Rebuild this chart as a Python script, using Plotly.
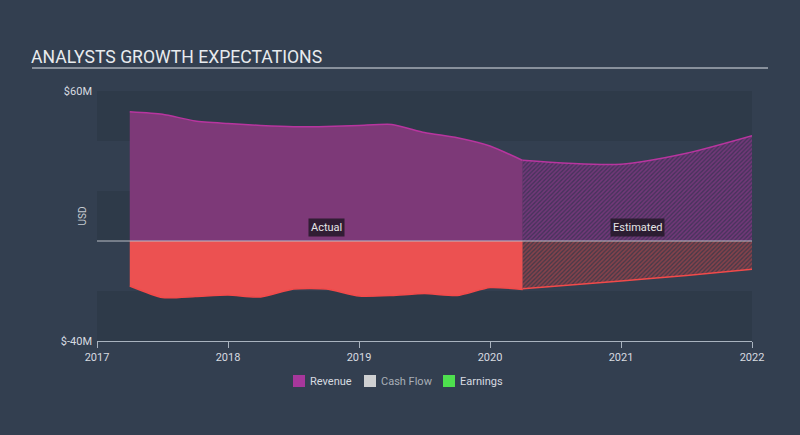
import plotly.graph_objects as go

# ---- data ----
actual_x = [2017.25, 2017.5, 2017.75, 2018.0, 2018.25, 2018.5, 2018.75,
            2019.0, 2019.25, 2019.5, 2019.75, 2020.0, 2020.25]
revenue_actual = [51.7, 50.7, 48.0, 47.0, 46.2, 45.7, 45.8,
                  46.2, 46.6, 43.4, 41.3, 38.0, 32.2]
earnings_actual = [-18.0, -22.6, -22.2, -21.6, -22.4, -19.2, -19.2,
                   -22.0, -21.8, -21.0, -21.8, -18.6, -19.4]
est_x = [2020.25, 2021.0, 2021.5, 2022.0]
revenue_est = [32.3, 30.7, 35.1, 42.1]
earnings_est = [-19.1, -16.0, -13.8, -11.3]
year_ticks = [2017, 2018, 2019, 2020, 2021, 2022]
y_ticks = [-40, 60]
y_tick_labels = ["$-40M", "$60M"]

BG = "#333f50"
BAND = "#2e3a49"
REV_LINE = "#b8359f"
REV_FILL = "rgba(125,57,120,1)"
EARN_LINE = "#f24a4a"
EARN_FILL = "rgba(236,81,81,1)"
TXT = "#d7dbe0"

fig = go.Figure()

fig.add_trace(go.Scatter(x=actual_x, y=revenue_actual, mode="lines",
                         line=dict(color=REV_LINE, width=1.5, shape="spline", smoothing=0.6),
                         fill="tozeroy", fillcolor=REV_FILL, hoverinfo="skip", showlegend=False))
fig.add_trace(go.Scatter(x=actual_x, y=earnings_actual, mode="lines",
                         line=dict(color=EARN_LINE, width=1.5, shape="spline", smoothing=0.6),
                         fill="tozeroy", fillcolor=EARN_FILL, hoverinfo="skip", showlegend=False))
fig.add_trace(go.Scatter(x=est_x, y=revenue_est, mode="lines",
                         line=dict(color=REV_LINE, width=1.5, shape="spline", smoothing=0.8),
                         fill="tozeroy", fillcolor="rgba(0,0,0,0)",
                         fillpattern=dict(shape="/", fgcolor="#a03c98", bgcolor="#48345c",
                                          size=3, solidity=0.5),
                         hoverinfo="skip", showlegend=False))
fig.add_trace(go.Scatter(x=est_x, y=earnings_est, mode="lines",
                         line=dict(color=EARN_LINE, width=1.5, shape="spline", smoothing=0.6),
                         fill="tozeroy", fillcolor="rgba(0,0,0,0)",
                         fillpattern=dict(shape="/", fgcolor="#c84a4e", bgcolor="#4a3a48",
                                          size=3, solidity=0.5),
                         hoverinfo="skip", showlegend=False))

shapes = []
for y0, y1 in [(40, 60), (0, 20), (-40, -20)]:
    shapes.append(dict(type="rect", xref="paper", yref="y", x0=0, x1=1, y0=y0, y1=y1,
                       fillcolor=BAND, line=dict(width=0), layer="below"))
shapes.append(dict(type="line", xref="paper", yref="y", x0=0, x1=1, y0=0, y1=0,
                   line=dict(color="#b9bec6", width=1.2), layer="above"))
shapes.append(dict(type="line", xref="paper", yref="paper",
                   x0=(32 - 97) / 655, x1=(768 - 97) / 655, y0=(341 - 68) / 250,
                   y1=(341 - 68) / 250, line=dict(color="#dfe3e8", width=1)))

legend_items = [("Revenue", "#a7379b", TXT, 293), ("Cash Flow", "#cfd0d2", "#a9afb7", 364),
                ("Earnings", "#4ee04e", TXT, 443)]
annotations = []
for name, col, tcol, px in legend_items:
    shapes.append(dict(type="rect", xref="paper", yref="paper",
                       x0=(px - 97) / 655, x1=(px + 12 - 97) / 655,
                       y0=(341 - 387) / 250, y1=(341 - 375) / 250,
                       fillcolor=col, line=dict(width=0)))
    annotations.append(dict(x=(px + 15 - 97) / 655, y=(341 - 381) / 250, xref="paper", yref="paper",
                            text=name, showarrow=False, xanchor="left", yanchor="middle",
                            font=dict(size=11, color=tcol, family="Roboto")))

annotations += [
    dict(x=(29 - 97) / 655, y=(341 - 57) / 250, xref="paper", yref="paper",
         text="ANALYSTS GROWTH EXPECTATIONS", showarrow=False, xanchor="left", yanchor="middle",
         font=dict(size=17.6, color="#e8ebee", family="Roboto")),
    dict(x=2018.75, y=5.6, text="Actual", showarrow=False, bgcolor="rgba(35,25,40,0.85)",
         font=dict(size=11, color="#e6e6e6", family="Roboto"), borderpad=2),
    dict(x=2021.125, y=5.6, text="Estimated", showarrow=False, bgcolor="rgba(35,25,40,0.85)",
         font=dict(size=11, color="#e6e6e6", family="Roboto"), borderpad=2),
    dict(x=(74 - 97) / 655, y=(341 - 216) / 250, xref="paper", yref="paper", text="USD",
         showarrow=False, textangle=-90, font=dict(size=10, color="#c7ccd2", family="Roboto")),
]

fig.update_layout(
    width=800, height=435,
    margin=dict(l=97, r=48, t=91, b=94),
    paper_bgcolor=BG, plot_bgcolor=BG,
    shapes=shapes, annotations=annotations,
    showlegend=False,
    font=dict(family="Roboto", color=TXT),
    xaxis=dict(range=[2017, 2022], tickvals=year_ticks, ticktext=[str(v) for v in year_ticks],
               showgrid=False, zeroline=False, showline=True, linecolor="#a9b3bf", linewidth=1,
               ticks="outside", ticklen=6, tickcolor="#a9b3bf",
               tickfont=dict(size=11, color=TXT)),
    yaxis=dict(range=[-40, 60], tickvals=y_ticks, ticktext=y_tick_labels, showgrid=False,
               zeroline=False, showline=False, ticks="", ticklabelstandoff=4,
               tickfont=dict(size=11, color=TXT)),
)

fig.write_html("out.html", config={"displayModeBar": False},
               post_script="document.body.style.margin='0';document.body.style.background='#333f50';")
